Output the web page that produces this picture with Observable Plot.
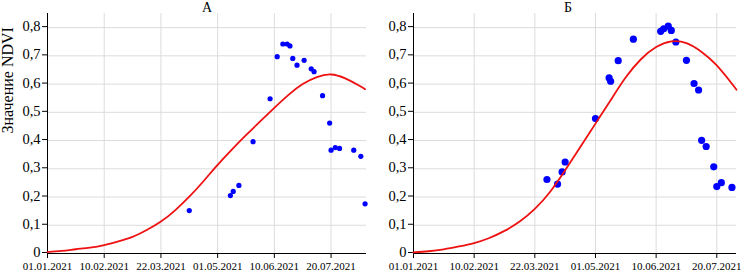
<!DOCTYPE html>
<html><head><meta charset="utf-8">
<script src="https://cdn.jsdelivr.net/npm/d3@7"></script>
<script src="https://cdn.jsdelivr.net/npm/@observablehq/plot@0.6"></script>
<style>body{margin:0;background:#fff}#wrap{display:flex;width:741px;height:271px;overflow:hidden}</style>
</head><body><div id="wrap"></div>
<script>
// Tick labels
const xTicks = ["2021-01-01","2021-02-10","2021-03-22","2021-05-01","2021-06-10","2021-07-20"];
const yTicks = [0,0.1,0.2,0.3,0.4,0.5,0.6,0.7,0.8];
const titles = ["А","Б"];
const yLabel = "Значение NDVI";

// Panel A observations
const aDates = ["2021-04-11","2021-05-10","2021-05-12","2021-05-16","2021-05-26","2021-06-07","2021-06-12","2021-06-16","2021-06-19","2021-06-21","2021-06-23","2021-06-26","2021-07-01","2021-07-06","2021-07-08","2021-07-14","2021-07-19","2021-07-20","2021-07-23","2021-07-26","2021-08-05","2021-08-10","2021-08-13"];
const aValues = [0.152,0.205,0.220,0.241,0.396,0.548,0.697,0.742,0.742,0.735,0.691,0.667,0.684,0.654,0.644,0.559,0.462,0.366,0.375,0.372,0.366,0.344,0.176];
// Panel A fitted curve
const aCurveDates = ["2021-01-01","2021-01-11","2021-01-21","2021-01-31","2021-02-10","2021-02-20","2021-03-02","2021-03-12","2021-03-22","2021-04-01","2021-04-11","2021-04-21","2021-05-01","2021-05-11","2021-05-21","2021-05-31","2021-06-10","2021-06-20","2021-06-30","2021-07-10","2021-07-20","2021-07-30","2021-08-09","2021-08-13"];
const aCurveValues = [0.005,0.009,0.015,0.021,0.030,0.043,0.059,0.083,0.113,0.153,0.201,0.256,0.314,0.368,0.419,0.468,0.516,0.562,0.600,0.625,0.634,0.620,0.594,0.582];

// Panel Б observations
const bDates = ["2021-03-30","2021-04-06","2021-04-09","2021-04-11","2021-05-01","2021-05-10","2021-05-11","2021-05-16","2021-05-26","2021-06-13","2021-06-15","2021-06-18","2021-06-20","2021-06-23","2021-06-30","2021-07-05","2021-07-08","2021-07-10","2021-07-13","2021-07-18","2021-07-20","2021-07-23","2021-07-30"];
const bValues = [0.262,0.246,0.289,0.324,0.478,0.622,0.610,0.683,0.759,0.787,0.796,0.805,0.790,0.749,0.684,0.602,0.579,0.401,0.379,0.307,0.237,0.251,0.234];
// Panel Б fitted curve
const bCurveDates = ["2021-01-01","2021-01-11","2021-01-21","2021-01-31","2021-02-10","2021-02-20","2021-03-02","2021-03-12","2021-03-22","2021-04-01","2021-04-11","2021-04-21","2021-05-01","2021-05-11","2021-05-21","2021-05-31","2021-06-10","2021-06-20","2021-06-30","2021-07-10","2021-07-20","2021-07-30","2021-08-02"];
const bCurveValues = [0.004,0.008,0.015,0.025,0.037,0.055,0.080,0.113,0.158,0.218,0.295,0.377,0.460,0.543,0.624,0.688,0.731,0.751,0.745,0.714,0.666,0.601,0.580];

const fmtX = d3.utcFormat("%d.%m.%Y");
const fmtY = v => v === 0 ? "0" : v.toFixed(1).replace(".", ",");

function panel(o) {
  const pts = o.dates.map((d, i) => ({date: new Date(d), v: o.values[i]}));
  const crv = o.curveDates.map((d, i) => ({date: new Date(d), v: o.curveValues[i]}));
  const ticks = xTicks.map(d => new Date(d));
  const marks = [
    Plot.gridX(ticks, {stroke: "#dcdcdc", strokeOpacity: 1}),
    Plot.gridY(yTicks.slice(1), {stroke: "#dcdcdc", strokeOpacity: 1}),
    Plot.ruleY([0], {stroke: "black"}),
    Plot.ruleX([ticks[0]], {stroke: "black"}),
    Plot.axisX(ticks, {tickFormat: fmtX, tickSize: 5, tickPadding: 4, fontSize: 11, label: null}),
    Plot.axisY(yTicks, {tickFormat: fmtY, tickSize: 5, tickPadding: 2, fontSize: 14.5, dy: -1, label: null}),
    Plot.dot(pts, {x: "date", y: "v", r: o.r, fill: "#0000ff", stroke: "none"}),
    Plot.line(crv, {x: "date", y: "v", stroke: "#ee1111", strokeWidth: 1.8, curve: "natural"}),
    Plot.text([o.title], {frameAnchor: "top", dy: -2, dx: o.titleDx, lineAnchor: "bottom", fontSize: 14})
  ];
  if (o.ylabel) marks.push(Plot.text([o.ylabel], {frameAnchor: "left", dx: -40, rotate: -90, fontSize: 16}));
  return Plot.plot({
    width: o.width, height: 271,
    marginLeft: o.marginLeft, marginRight: o.marginRight, marginTop: 13, marginBottom: 18,
    x: {type: "utc", domain: [ticks[0], new Date(o.end)]},
    y: {domain: [0, 0.85]},
    style: {fontFamily: "'Liberation Serif', serif", background: "white", color: "black", overflow: "visible"},
    marks
  });
}

const wrap = document.getElementById("wrap");
wrap.append(panel({title: titles[0], dates: aDates, values: aValues, curveDates: aCurveDates, curveValues: aCurveValues,
  end: "2021-08-14", width: 370, marginLeft: 47, marginRight: 4, r: 2.6, titleDx: 0, ylabel: yLabel}));
wrap.append(panel({title: titles[1], dates: bDates, values: bValues, curveDates: bCurveDates, curveValues: bCurveValues,
  end: "2021-08-02", width: 371, marginLeft: 43, marginRight: 5, r: 3.6, titleDx: -7}));
</script>
</body></html>
